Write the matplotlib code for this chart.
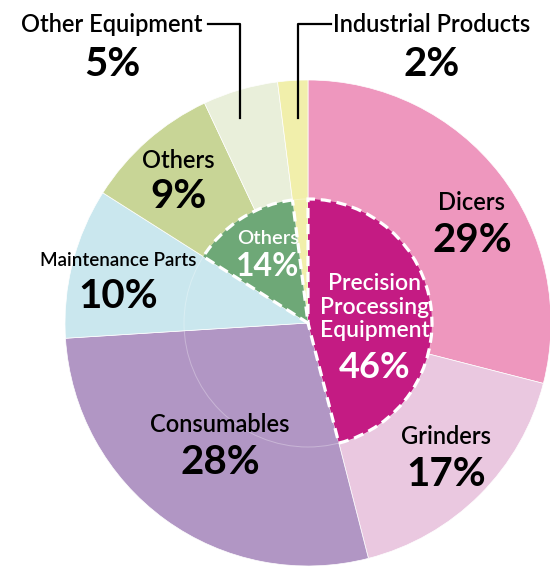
import matplotlib
matplotlib.use('Agg')
import matplotlib.pyplot as plt
from matplotlib.patches import Circle

plt.rcParams['font.family'] = ['Lato', 'DejaVu Sans']

# outer ring, clockwise from 12 o'clock
outer_labels = ['Dicers', 'Grinders', 'Consumables', 'Maintenance Parts',
                'Others', 'Other Equipment', 'Industrial Products']
outer_values = [29, 17, 28, 10, 9, 5, 2]
outer_colors = ['#EE97BE', '#EAC8E0', '#B196C4', '#CAE7EE',
                '#C8D596', '#E9EFDA', '#F1EFAB']

# inner segments (gaps show the outer colour through)
inner_labels = ['Precision\nProcessing\nEquipment', '', 'Others', '']
inner_values = [46, 38, 14, 2]
inner_colors = ['#C41B83', 'none', '#6EA877', 'none']

W, H = 550, 572
cx, cy = 308, 323   # centre in pixels from top-left
R_out, R_in = 243, 124

fig = plt.figure(figsize=(W / 100, H / 100), dpi=100)
ax = fig.add_axes([0, 0, 1, 1])

def Y(y):
    return H - y

def frame():
    ax.set_xlim(0, W)
    ax.set_ylim(0, H)
    ax.set_aspect('equal')
    ax.axis('off')

ax.pie(outer_values, colors=outer_colors, startangle=90, counterclock=False,
       radius=R_out, center=(cx, Y(cy)), frame=True,
       wedgeprops=dict(edgecolor='white', linewidth=0.5))

# faint inner boundary over the consumables / maintenance area
ax.add_patch(Circle((cx, Y(cy)), R_in, fill=False, edgecolor='white',
                    alpha=0.3, linewidth=0.7, zorder=2))

wedges, _ = ax.pie(inner_values, colors=inner_colors, startangle=90,
                   counterclock=False, radius=R_in, center=(cx, Y(cy)), frame=True,
                   wedgeprops=dict(edgecolor='white', linewidth=2.3,
                                   linestyle=(0, (3.2, 1.8))))
for w, c in zip(wedges, inner_colors):
    w.set_zorder(3)
    if c == 'none':
        w.set_visible(False)
frame()

def label(x, y1, y2, name, pct, color='black', name_size=17, pct_size=29):
    ax.text(x, Y(y1), name, ha='center', va='center', fontsize=name_size,
            color=color, fontweight='semibold', zorder=5)
    ax.text(x, Y(y2), pct, ha='center', va='center', fontsize=pct_size,
            color=color, fontweight='bold', zorder=5)

pcts = [f'{v}%' for v in outer_values]
label(472, 203, 241, outer_labels[0], pcts[0])
label(446, 437, 474, outer_labels[1], pcts[1])
label(220, 425, 462, outer_labels[2], pcts[2])
label(118, 260, 297, outer_labels[3], pcts[3], name_size=13.5)
label(178, 160, 197, outer_labels[4], pcts[4])
label(112, 24, 64, outer_labels[5], pcts[5])
label(432, 24, 64, outer_labels[6], pcts[6])

# inner labels
ax.text(375, Y(307), inner_labels[0], ha='center', va='center', fontsize=16.5,
        color='white', fontweight='semibold', zorder=5, linespacing=1.15)
ax.text(375, Y(368), f'{inner_values[0]}%', ha='center', va='center',
        fontsize=26, color='white', fontweight='bold', zorder=5)
ax.text(268, Y(238), inner_labels[2], ha='center', va='center', fontsize=14.5,
        color='white', fontweight='semibold', zorder=5)
ax.text(268, Y(266), f'{inner_values[2]}%', ha='center', va='center',
        fontsize=23, color='white', fontweight='bold', zorder=5)

# leader lines for the thin slices
ax.plot([208, 240, 240], [Y(24), Y(24), Y(118)], color='black', lw=1.6, zorder=6)
ax.plot([331, 298, 298], [Y(24), Y(24), Y(118)], color='black', lw=1.6, zorder=6)

fig.savefig('out.png', dpi=100)
